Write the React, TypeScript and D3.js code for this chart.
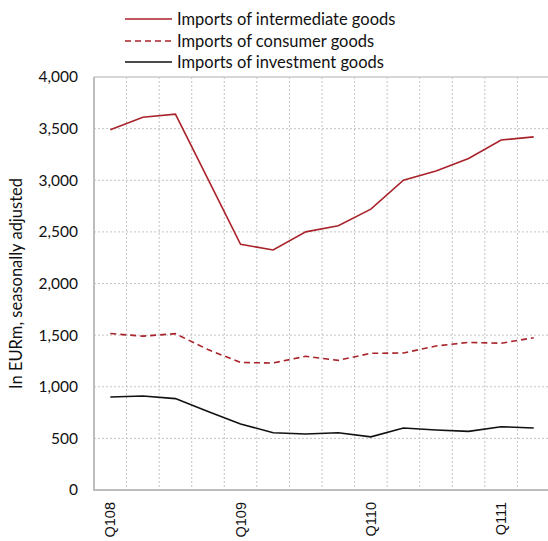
import React from "react";
import * as d3 from "d3";

const quarters = ["Q108","Q208","Q308","Q408","Q109","Q209","Q309","Q409","Q110","Q210","Q310","Q410","Q111","Q211"];
const tickLabels = ["Q108","Q109","Q110","Q111"];
const intermediate = [3490,3610,3640,3010,2380,2325,2500,2560,2720,3000,3090,3210,3390,3420];
const consumer = [1515,1490,1514,1360,1235,1230,1295,1256,1324,1327,1395,1430,1421,1475];
const investment = [900,910,885,760,640,555,542,555,515,600,581,568,613,600];
const yTicks = [0,500,1000,1500,2000,2500,3000,3500,4000];

const seriesNames = ["Imports of intermediate goods","Imports of consumer goods","Imports of investment goods"];

const RED = "#a8232a";
const W = 548, H = 541;
const left = 94, right = 550, top = 77, bottom = 490;
const FONT = "Lato, 'Open Sans', sans-serif";

export default function App() {
  const x = d3.scaleBand<string>().domain(quarters).range([left, right]).padding(0);
  const y = d3.scaleLinear().domain([0, 4000]).range([bottom, top]);
  const cx = (q: string) => (x(q) as number) + x.bandwidth() / 2;
  const line = d3.line<number>().x((_, i) => cx(quarters[i])).y((d) => y(d));
  const series = [
    { name: seriesNames[0], data: intermediate, color: RED, dash: undefined as string | undefined },
    { name: seriesNames[1], data: consumer, color: RED, dash: "6,4" },
    { name: seriesNames[2], data: investment, color: "#111", dash: undefined },
  ];
  const fmt = d3.format(",");
  const legendY = [19, 41, 62];
  return (
    <svg width={W} height={H} style={{ position: "absolute", left: 0, top: 0, background: "#fff" }}>
      {yTicks.filter((t) => t > 0 && t < 4000).map((t) => (
        <line key={"h" + t} x1={left} x2={right} y1={y(t)} y2={y(t)} stroke="#c4c4c4" strokeWidth={1} strokeDasharray="2,2" />
      ))}
      {quarters.slice(1).map((q) => (
        <line key={"v" + q} x1={x(q)} x2={x(q)} y1={top} y2={bottom} stroke="#c4c4c4" strokeWidth={1} strokeDasharray="2,2" />
      ))}
      <line x1={left} x2={right} y1={top} y2={top} stroke="#c8c8c8" strokeWidth={1.5} />
      <line x1={left} x2={left} y1={top} y2={bottom + 1} stroke="#bdbdbd" strokeWidth={2} />
      <line x1={left} x2={right} y1={bottom} y2={bottom} stroke="#bdbdbd" strokeWidth={2} />
      {yTicks.map((t) => (
        <text key={"yt" + t} x={78} y={y(t)} dy="0.35em" textAnchor="end" fontFamily={FONT} fontSize={15.5} fill="#111">
          {fmt(t)}
        </text>
      ))}
      {tickLabels.map((q) => (
        <text key={"xt" + q} transform={`translate(${cx(q)},${bottom + 12}) rotate(-90)`} dy="0.35em" textAnchor="end"
          fontFamily="'Liberation Sans', Arial, sans-serif" fontSize={14.5} fill="#111">
          {q}
        </text>
      ))}
      <text transform={`translate(16,${(top + bottom) / 2}) rotate(-90)`} textAnchor="middle" dy="0.35em" fontFamily={FONT} fontSize={16.5} fill="#111">
        In EURm, seasonally adjusted
      </text>
      {series.map((s) => (
        <path key={s.name} d={line(s.data) as string} fill="none" stroke={s.color} strokeWidth={1.6} strokeDasharray={s.dash} />
      ))}
      {series.map((s, i) => (
        <g key={"lg" + i}>
          <line x1={125} x2={172} y1={legendY[i]} y2={legendY[i]} stroke={s.color} strokeWidth={1.6} strokeDasharray={s.dash} />
          <text x={177} y={legendY[i]} dy="0.35em" fontFamily={FONT} fontSize={16.5} fill="#111">{s.name}</text>
        </g>
      ))}
    </svg>
  );
}
